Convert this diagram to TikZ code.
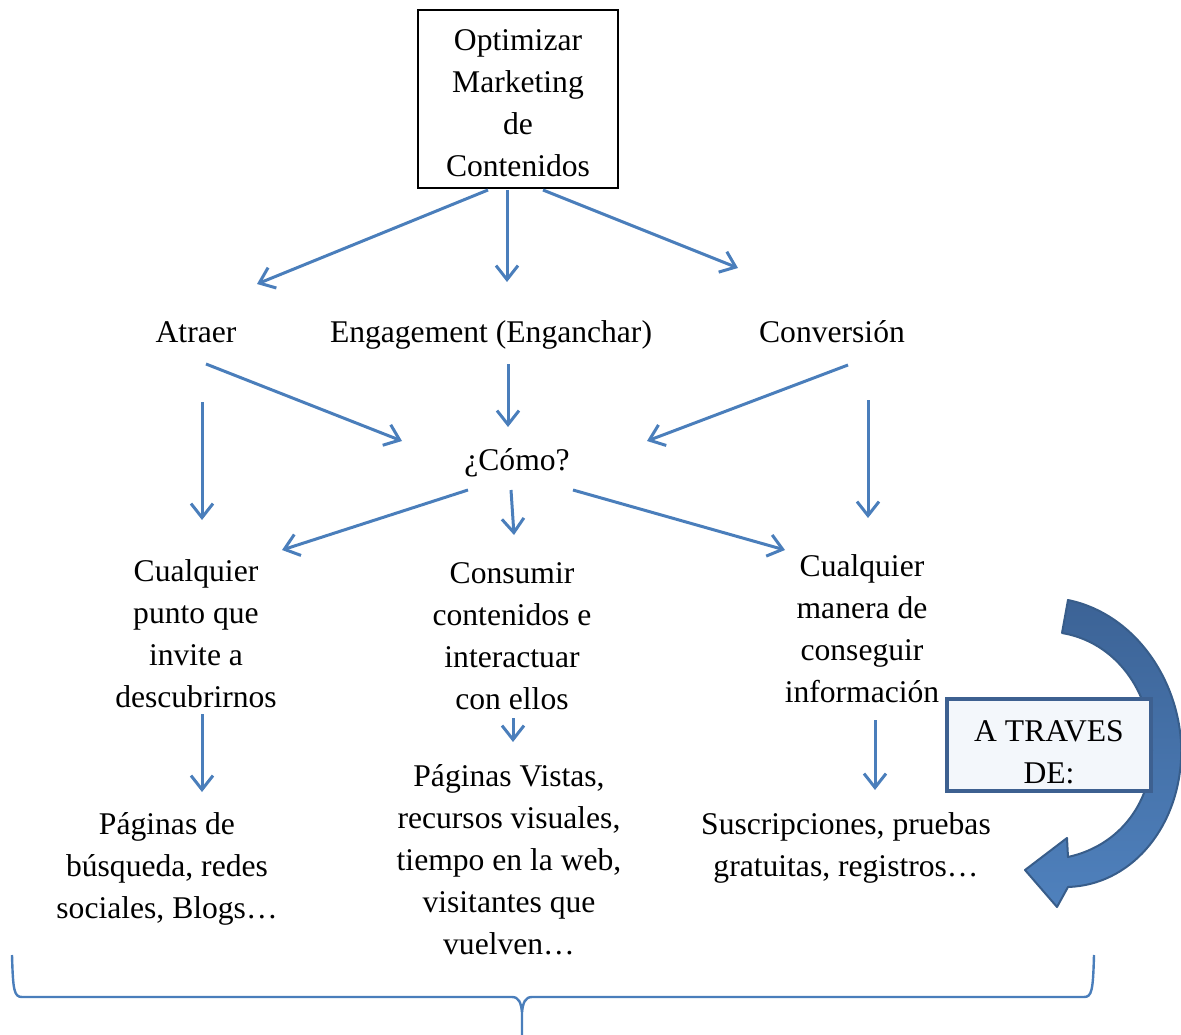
\documentclass[tikz,border=0pt]{standalone}
\usepackage{fontspec}
\setmainfont{Liberation Serif}
\usetikzlibrary{arrows.meta,calc}
\definecolor{arrblue}{HTML}{4A7EBB}
\definecolor{bigdark}{HTML}{3C6396}
\definecolor{biglight}{HTML}{4F81BD}
\definecolor{bigedge}{HTML}{385D8A}
\definecolor{travesedge}{HTML}{3D6090}
\definecolor{travesfill}{HTML}{F3F7FB}
\begin{document}
\begin{tikzpicture}[x=1pt,y=-1pt,
  txt/.style={align=center, font=\fontsize{31.6}{42}\selectfont, inner sep=0pt},
  arr/.style={draw=arrblue, line width=3pt, -{Straight Barb[length=14pt,width=22pt,line width=3pt]}},
  brace/.style={draw=arrblue, line width=2.4pt}]
\useasboundingbox (0,0) rectangle (1181,1035);

% nodes
\node[draw=black, line width=2pt, minimum width=200pt, minimum height=178pt] (top) at (518,99) {};
\node[txt] (toptext) at (518,103) {Optimizar\\Marketing\\de\\Contenidos};
\node[txt] (atraer) at (196,332) {Atraer};
\node[txt] (engage) at (491,335) {Engagement (Enganchar)};
\node[txt] (conv) at (832,332) {Conversión};
\node[txt] (como) at (517,463) {¿Cómo?};
\node[txt] (cual1) at (196,634) {Cualquier\\punto que\\invite a\\descubrirnos};
\node[txt] (consum) at (512,636) {Consumir\\contenidos e\\interactuar\\con ellos};
\node[txt] (cual2) at (862,629) {Cualquier\\manera de\\conseguir\\información};
\node[txt] (pag1) at (167,869) {Páginas de\\búsqueda, redes\\sociales, Blogs…};
\node[txt] (pag2) at (509,860) {Páginas Vistas,\\recursos visuales,\\tiempo en la web,\\visitantes que\\vuelven…};
\node[txt] (susc) at (846,848) {Suscripciones, pruebas\\gratuitas, registros…};

% connector end points
\coordinate (t1) at (488,190); \coordinate (a1) at (257,284);
\coordinate (t2) at (507,190); \coordinate (e1) at (507,282);
\coordinate (t3) at (543,190); \coordinate (c1) at (738,268);
\coordinate (a2) at (202,402); \coordinate (l1) at (202,520);
\coordinate (a3) at (206,364); \coordinate (m1) at (402,441);
\coordinate (e2) at (508,364); \coordinate (m2) at (508,427);
\coordinate (c2) at (848,365); \coordinate (m3) at (647,441);
\coordinate (c3) at (868,400); \coordinate (r1) at (868,518);
\coordinate (m4) at (468,490); \coordinate (l2) at (282,550);
\coordinate (m5) at (511,490); \coordinate (n2) at (514,535);
\coordinate (m6) at (573,490); \coordinate (r2) at (785,550);
\coordinate (l3) at (202,714); \coordinate (l4) at (202,792);
\coordinate (n3) at (513,718); \coordinate (n4) at (513,742);
\coordinate (r3) at (875,720); \coordinate (r4) at (875,790);

\draw[arr] (t1) -- (a1);
\draw[arr] (t2) -- (e1);
\draw[arr] (t3) -- (c1);
\draw[arr] (a2) -- (l1);
\draw[arr] (a3) -- (m1);
\draw[arr] (e2) -- (m2);
\draw[arr] (c2) -- (m3);
\draw[arr] (c3) -- (r1);
\draw[arr] (m4) -- (l2);
\draw[arr] (m5) -- (n2);
\draw[arr] (m6) -- (r2);
\draw[arr] (l3) -- (l4);
\draw[arr] (n3) -- (n4);
\draw[arr] (r3) -- (r4);

% curved block arrow
\path[top color=bigdark, bottom color=biglight, draw=bigedge, line width=2pt, line join=round]
 (1068,600) .. controls (1140,615) and (1185,690) .. (1181,760)
 .. controls (1177,830) and (1130,885) .. (1068,887)
 -- (1057,907) -- (1025,870) -- (1067,838) -- (1068,857)
 .. controls (1122,845) and (1152,800) .. (1152,750)
 .. controls (1151,690) and (1115,642) .. (1062,633) -- cycle;

\node[draw=travesedge, fill=travesfill, line width=4pt, minimum width=204pt, minimum height=92pt] (travesbox) at (1049,745) {};
\node[txt] (traves) at (1049,752) {A TRAVES\\DE:};

% brace
\coordinate (bl) at (12,955);
\coordinate (br) at (1094,955);
\coordinate (btip) at (522,1035);
\draw[brace] (bl) .. controls (13,990) and (14,997) .. (22,997) -- (512,997)
  .. controls (519,997) and (521,1003) .. (522,1012) -- (btip);
\draw[brace] (br) .. controls (1093,990) and (1092,997) .. (1084,997) -- (532,997)
  .. controls (525,997) and (523,1003) .. (522,1012);
\end{tikzpicture}
\end{document}
